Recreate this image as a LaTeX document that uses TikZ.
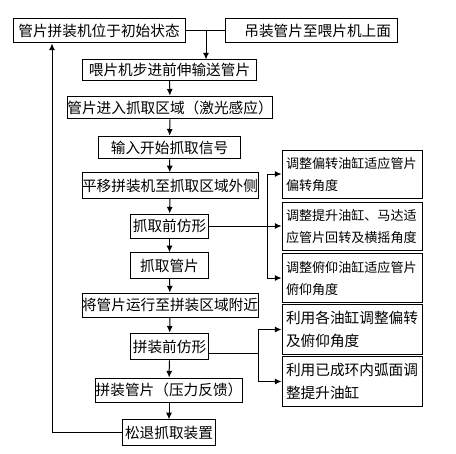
\documentclass[tikz,border=0pt]{standalone}
\usepackage{fontspec}
\newfontfamily\cjk{Noto Sans CJK SC}
\usetikzlibrary{arrows.meta}

\tikzset{every picture/.style={line width=0.75pt}}
\tikzset{
  box/.style={draw, inner sep=0pt, font=\cjk\fontsize{11}{12}\selectfont},
  sidebox/.style={draw, inner sep=0pt, align=left, minimum width=105pt, text width=99pt,
    font=\cjk\fontsize{9.8}{16.5}\selectfont},
  flow/.style={-{Latex[length=5pt,width=4.5pt]}}
}

\begin{document}
\begin{tikzpicture}[x=0.75pt,y=0.75pt,yscale=-1,xscale=1]
	\path (0,0) rectangle (456,453); %set diagram size

	%Shape: Rectangle [id:n1]
	\node[box, minimum width=129pt, minimum height=18pt] (n1) at (99,31) {管片拼装机位于初始状态};
	%Shape: Rectangle [id:n2]
	\node[box, minimum width=129pt, minimum height=18pt] (n2) at (311,31) {\hspace{10pt}吊装管片至喂片机上面};
	%Shape: Rectangle [id:n3]
	\node[box, minimum width=130pt, minimum height=15pt] (n3) at (169.5,70) {喂片机步进前伸输送管片};
	%Shape: Rectangle [id:n4]
	\node[box, minimum width=153pt, minimum height=17pt] (n4) at (170,107.5) {管片进入抓取区域（激光感应）};
	%Shape: Rectangle [id:n5]
	\node[box, minimum width=106pt, minimum height=17pt] (n5) at (169.5,147.5) {输入开始抓取信号};
	%Shape: Rectangle [id:n6]
	\node[box, minimum width=130pt, minimum height=19pt] (n6) at (170,185.5) {平移拼装机至抓取区域外侧};
	%Shape: Rectangle [id:n7]
	\node[box, minimum width=59pt, minimum height=18pt] (n7) at (169.5,226) {抓取前仿形};
	%Shape: Rectangle [id:n8]
	\node[box, minimum width=59pt, minimum height=19pt] (n8) at (169.5,265.5) {抓取管片};
	%Shape: Rectangle [id:n9]
	\node[box, minimum width=130pt, minimum height=18pt] (n9) at (170,305) {将管片运行至拼装区域附近};
	%Shape: Rectangle [id:n10]
	\node[box, minimum width=59pt, minimum height=20pt] (n10) at (169.5,346.5) {拼装前仿形};
	%Shape: Rectangle [id:n11]
	\node[box, minimum width=106pt, minimum height=18pt] (n11) at (169,390) {拼装管片（压力反馈）};
	%Shape: Rectangle [id:n12]
	\node[box, minimum width=70pt, minimum height=19pt] (n12) at (169,432.5) {松退抓取装置};

	%Shape: Rectangle [id:r1]
	\node[sidebox, minimum height=36pt] (r1) at (352,174) {调整偏转油缸适应管片\\偏转角度};
	%Shape: Rectangle [id:r2]
	\node[sidebox, minimum height=36pt] (r2) at (352,226) {调整提升油缸、马达适\\应管片回转及横摇角度};
	%Shape: Rectangle [id:r3]
	\node[sidebox, minimum height=37pt] (r3) at (352,278) {调整俯仰油缸适应管片\\俯仰角度};
	%Shape: Rectangle [id:r4]
	\node[sidebox, minimum height=37pt, font=\cjk\fontsize{11}{17}\selectfont] (r4) at (352,329.5) {利用各油缸调整偏转\\及俯仰角度};
	%Shape: Rectangle [id:r5]
	\node[sidebox, minimum height=37pt, font=\cjk\fontsize{11}{17}\selectfont] (r5) at (352,381.5) {利用已成环内弧面调\\整提升油缸};

	% Junction points
	\coordinate (j1) at (206,31);
	\coordinate (b1) at (267,226);
	\coordinate (b2) at (258,353);
	\coordinate (lp) at (52,432.5);

	%Straight Lines
	\draw (n1.east) -- (n2.west);
	\draw[flow] (j1) -- (j1 |- n3.north);
	\draw[flow] (n3) -- (n4);
	\draw[flow] (n4) -- (n5);
	\draw[flow] (n5) -- (n6);
	\draw[flow] (n6) -- (n7);
	\draw[flow] (n7) -- (n8);
	\draw[flow] (n8) -- (n9);
	\draw[flow] (n9) -- (n10);
	\draw[flow] (n10) -- (n11);
	\draw[flow] (n11) -- (n12);

	%Return line
	\draw[flow] (n12.west) -- (lp) -- (lp |- n1.south);

	%Branch after grasp profiling
	\draw (n7.east) -- (b1);
	\draw[flow] (b1) |- (r1.west);
	\draw[flow] (b1) -- (r2.west);
	\draw[flow] (b1) |- (r3.west);

	%Branch after assembly profiling
	\draw (n10.east |- b2) -- (b2);
	\draw[flow] (b2) |- (r4.west);
	\draw[flow] (b2) |- (r5.west);

\end{tikzpicture}
\end{document}
